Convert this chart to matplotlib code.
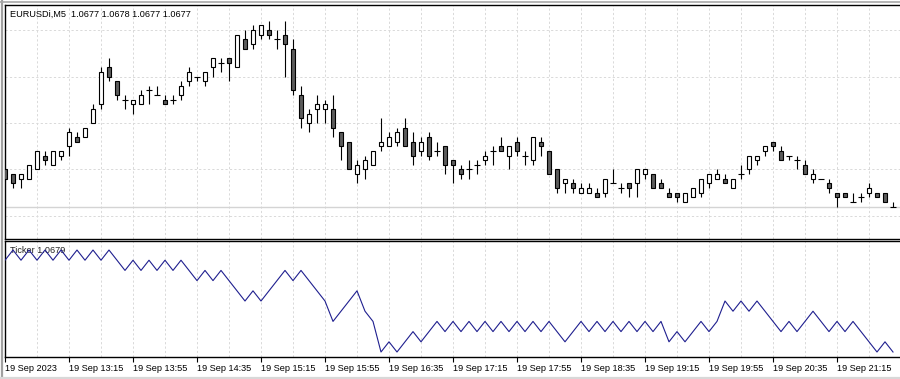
import matplotlib
matplotlib.use("Agg")
import matplotlib.pyplot as plt
from matplotlib.patches import Rectangle
from matplotlib.lines import Line2D
import matplotlib.transforms as mtransforms

# ---------------- data ----------------
symbol = "EURUSDi,M5"
opens = [1.0685, 1.0684, 1.0683, 1.0683, 1.0685, 1.0688, 1.0686, 1.0688, 1.0690, 1.0692,
         1.0692, 1.0695, 1.0699, 1.0707, 1.0704, 1.0700, 1.0699, 1.0699, 1.0702, 1.0701,
         1.0700, 1.0700, 1.0701, 1.0704, 1.0705, 1.0704, 1.0707, 1.0708, 1.0709, 1.0707,
         1.0713, 1.0712, 1.0714, 1.0715, 1.0713, 1.0714, 1.0711, 1.0701, 1.0695, 1.0698,
         1.0698, 1.0698, 1.0693, 1.0691, 1.0684, 1.0685, 1.0686, 1.0690, 1.0690, 1.0691,
         1.0694, 1.0691, 1.0689, 1.0692, 1.0689, 1.0690, 1.0687, 1.0685, 1.0685, 1.0686,
         1.0687, 1.0689, 1.0690, 1.0688, 1.0691, 1.0688, 1.0687, 1.0691, 1.0689, 1.0685,
         1.0682, 1.0682, 1.0680, 1.0680, 1.0680, 1.0680, 1.0682, 1.0681, 1.0682, 1.0682,
         1.0684, 1.0684, 1.0682, 1.0680, 1.0680, 1.0678, 1.0679, 1.0680, 1.0682, 1.0683,
         1.0683, 1.0681, 1.0684, 1.0685, 1.0687, 1.0689, 1.0691, 1.0689, 1.0688, 1.0687,
         1.0686, 1.0683, 1.0683, 1.0682, 1.0680, 1.0680, 1.0678, 1.0679, 1.0680, 1.0680,
         1.0680, 1.0677]
highs = [1.0685, 1.0684, 1.0684, 1.0686, 1.0689, 1.0689, 1.0689, 1.0689, 1.0694, 1.0693,
         1.0694, 1.0699, 1.0707, 1.0709, 1.0704, 1.0701, 1.0700, 1.0702, 1.0703, 1.0703,
         1.0701, 1.0701, 1.0704, 1.0707, 1.0705, 1.0706, 1.0709, 1.0709, 1.0709, 1.0714,
         1.0715, 1.0716, 1.0716, 1.0717, 1.0715, 1.0717, 1.0713, 1.0703, 1.0698, 1.0701,
         1.0700, 1.0701, 1.0693, 1.0691, 1.0687, 1.0688, 1.0689, 1.0696, 1.0693, 1.0694,
         1.0696, 1.0693, 1.0692, 1.0693, 1.0691, 1.0690, 1.0687, 1.0686, 1.0687, 1.0687,
         1.0689, 1.0690, 1.0692, 1.0690, 1.0692, 1.0689, 1.0692, 1.0692, 1.0689, 1.0685,
         1.0683, 1.0683, 1.0682, 1.0682, 1.0681, 1.0683, 1.0685, 1.0682, 1.0682, 1.0685,
         1.0685, 1.0684, 1.0683, 1.0681, 1.0680, 1.0680, 1.0681, 1.0683, 1.0684, 1.0685,
         1.0684, 1.0683, 1.0686, 1.0688, 1.0688, 1.0690, 1.0691, 1.0690, 1.0688, 1.0688,
         1.0687, 1.0685, 1.0683, 1.0683, 1.0680, 1.0680, 1.0680, 1.0680, 1.0682, 1.0680,
         1.0680, 1.0678]
lows = [1.0683, 1.0681, 1.0681, 1.0683, 1.0685, 1.0686, 1.0686, 1.0687, 1.0688, 1.0691,
        1.0692, 1.0695, 1.0698, 1.0704, 1.0700, 1.0698, 1.0697, 1.0699, 1.0699, 1.0701,
        1.0699, 1.0699, 1.0700, 1.0703, 1.0704, 1.0703, 1.0705, 1.0706, 1.0704, 1.0707,
        1.0711, 1.0711, 1.0713, 1.0713, 1.0711, 1.0705, 1.0701, 1.0694, 1.0693, 1.0695,
        1.0695, 1.0692, 1.0687, 1.0685, 1.0682, 1.0683, 1.0686, 1.0689, 1.0690, 1.0690,
        1.0690, 1.0686, 1.0688, 1.0687, 1.0688, 1.0684, 1.0682, 1.0683, 1.0683, 1.0684,
        1.0686, 1.0686, 1.0689, 1.0685, 1.0688, 1.0686, 1.0686, 1.0688, 1.0684, 1.0680,
        1.0680, 1.0680, 1.0680, 1.0680, 1.0679, 1.0679, 1.0682, 1.0680, 1.0679, 1.0679,
        1.0683, 1.0681, 1.0681, 1.0679, 1.0678, 1.0678, 1.0679, 1.0679, 1.0681, 1.0683,
        1.0682, 1.0681, 1.0683, 1.0684, 1.0686, 1.0688, 1.0689, 1.0687, 1.0687, 1.0685,
        1.0684, 1.0682, 1.0683, 1.0680, 1.0677, 1.0679, 1.0678, 1.0678, 1.0679, 1.0679,
        1.0678, 1.0677]
closes = [1.0683, 1.0682, 1.0684, 1.0686, 1.0689, 1.0687, 1.0689, 1.0689, 1.0693, 1.0691,
          1.0694, 1.0698, 1.0706, 1.0705, 1.0701, 1.0700, 1.0700, 1.0701, 1.0702, 1.0701,
          1.0699, 1.0700, 1.0703, 1.0706, 1.0705, 1.0706, 1.0709, 1.0708, 1.0708, 1.0714,
          1.0711, 1.0715, 1.0716, 1.0714, 1.0713, 1.0712, 1.0702, 1.0696, 1.0697, 1.0699,
          1.0699, 1.0694, 1.0690, 1.0685, 1.0686, 1.0687, 1.0689, 1.0691, 1.0692, 1.0693,
          1.0690, 1.0688, 1.0691, 1.0688, 1.0689, 1.0686, 1.0686, 1.0684, 1.0685, 1.0686,
          1.0688, 1.0689, 1.0689, 1.0690, 1.0689, 1.0688, 1.0692, 1.0690, 1.0684, 1.0681,
          1.0683, 1.0681, 1.0681, 1.0681, 1.0679, 1.0683, 1.0682, 1.0681, 1.0681, 1.0685,
          1.0685, 1.0681, 1.0681, 1.0679, 1.0679, 1.0680, 1.0681, 1.0683, 1.0684, 1.0684,
          1.0682, 1.0683, 1.0684, 1.0688, 1.0688, 1.0690, 1.0690, 1.0687, 1.0688, 1.0687,
          1.0684, 1.0684, 1.0683, 1.0681, 1.0679, 1.0679, 1.0678, 1.0679, 1.0681, 1.0679,
          1.0678, 1.0677]
ticker = [1.0688, 1.0689, 1.0688, 1.0689, 1.0688, 1.0689, 1.0688, 1.0689, 1.0688, 1.0689,
          1.0688, 1.0689, 1.0688, 1.0689, 1.0688,
          1.0687, 1.0688, 1.0687, 1.0688, 1.0687, 1.0688, 1.0687, 1.0688, 1.0687,
          1.0686, 1.0687, 1.0686, 1.0687, 1.0686,
          1.0685, 1.0684, 1.0685, 1.0684, 1.0685, 1.0686, 1.0687, 1.0686, 1.0687, 1.0686,
          1.0685, 1.0684,
          1.0682, 1.0683, 1.0684, 1.0685, 1.0683, 1.0682,
          1.0679, 1.0680, 1.0679, 1.0680, 1.0681, 1.0680, 1.0681, 1.0682, 1.0681,
          1.0682, 1.0681, 1.0682, 1.0681, 1.0682, 1.0681, 1.0682, 1.0681, 1.0682, 1.0681,
          1.0682, 1.0681, 1.0682, 1.0681,
          1.0680, 1.0681, 1.0682, 1.0681, 1.0682, 1.0681, 1.0682, 1.0681, 1.0682, 1.0681,
          1.0682, 1.0681, 1.0682,
          1.0680, 1.0681, 1.0680, 1.0681, 1.0682, 1.0681, 1.0682,
          1.0684, 1.0683, 1.0684, 1.0683, 1.0684, 1.0683, 1.0682, 1.0681, 1.0682, 1.0681,
          1.0682, 1.0683, 1.0682, 1.0681, 1.0682, 1.0681, 1.0682, 1.0681, 1.0680, 1.0679,
          1.0680, 1.0679]
tick_labels = ["19 Sep 2023", "19 Sep 13:15", "19 Sep 13:55", "19 Sep 14:35",
               "19 Sep 15:15", "19 Sep 15:55", "19 Sep 16:35", "19 Sep 17:15",
               "19 Sep 17:55", "19 Sep 18:35", "19 Sep 19:15", "19 Sep 19:55",
               "19 Sep 20:35", "19 Sep 21:15"]
price_grid = [1.0675, 1.0685, 1.0695, 1.0705, 1.0715]

# ---------------- layout ----------------
W, H = 900, 379
FONT = "Liberation Sans"
fig = plt.figure(figsize=(W / 100, H / 100), dpi=100, facecolor="white")

def px_rect(x0, y0, x1, y1):
    return [x0 / W, 1 - y1 / H, (x1 - x0) / W, (y1 - y0) / H]

ax1 = fig.add_axes(px_rect(5, 5, 901, 239))
ax2 = fig.add_axes(px_rect(5, 241, 901, 357))

n = len(closes)
xs = list(range(n))
xmax = (901 - 5) / 8.0
for ax in (ax1, ax2):
    ax.set_xlim(0, xmax)
    ax.set_facecolor("white")
    for side in ("left", "top", "bottom"):
        ax.spines[side].set_color("black")
        ax.spines[side].set_linewidth(1.0)
    ax.spines["right"].set_visible(False)
    ax.set_yticks([])
    # vertical grid every 4 bars
    for gx in range(4, n + 1, 4):
        ax.axvline(gx, color="#dadada", lw=0.72, dashes=(2.2, 2.2), zorder=0)

ax1.set_ylim(1.067005, 1.072038)
ax2.set_ylim(1.067851, 1.0689885)

for gy in price_grid:
    ax1.axhline(gy, color="#dadada", lw=0.72, dashes=(2.2, 2.2), zorder=0)
# bid line
ax1.axhline(closes[-1], color="#d4d4d4", lw=1.0, zorder=0.5)

# candles
bw = 0.56
bear = "#5c5c5c"
for i in xs:
    o, h, l, c = opens[i], highs[i], lows[i], closes[i]
    if h > l:
        ax1.plot([i, i], [l, h], color="black", lw=0.8, solid_capstyle="butt", zorder=2)
    if c > o:
        ax1.add_patch(Rectangle((i - bw / 2, o), bw, c - o, facecolor="white",
                                edgecolor="black", lw=0.8, zorder=3))
    elif c < o:
        ax1.add_patch(Rectangle((i - bw / 2, c), bw, o - c, facecolor=bear,
                                edgecolor="black", lw=0.8, zorder=3))
    else:
        ax1.plot([i - bw / 2 - 0.06, i + bw / 2 + 0.06], [o, o], color="black",
                 lw=0.8, solid_capstyle="butt", zorder=3)
ax1.set_xticks([])

# ticker line
ax2.plot(xs, ticker, color="#1f1f8f", lw=0.8, zorder=3)

# time axis
ax2.set_xticks(list(range(0, n, 8)))
ax2.set_xticklabels(tick_labels, ha="left", fontsize=6.6, family=FONT)
ax2.tick_params(axis="x", length=3.8, width=0.8, pad=1.5, colors="black", direction="out")

# texts
ax1.text(5 / 896, 1 - 9 / 234, f"{symbol}  {opens[-1]:.4f} {highs[-1]:.4f} {lows[-1]:.4f} {closes[-1]:.4f}",
         transform=ax1.transAxes, fontsize=6.6, family=FONT, va="center", ha="left",
         color="black", zorder=5)
ax2.text(5 / 896, 1 - 9.5 / 116, f"Ticker {ticker[-1]:.4f}",
         transform=ax2.transAxes, fontsize=6.6, family=FONT, va="center", ha="left",
         color="#222222", zorder=2)

# window frame
fig.add_artist(Line2D([1.5 / W, 1.5 / W], [0, 1 - 1 / H], color="#a0a0a0", lw=1.6))
fig.add_artist(Line2D([0, 1], [1 - 1.5 / H, 1 - 1.5 / H], color="#a8a8a8", lw=1.2))
fig.add_artist(Line2D([0, 1], [1.5 / H, 1.5 / H], color="#d8d8d8", lw=1.6))

fig.savefig("out.png", dpi=100, facecolor="white")
